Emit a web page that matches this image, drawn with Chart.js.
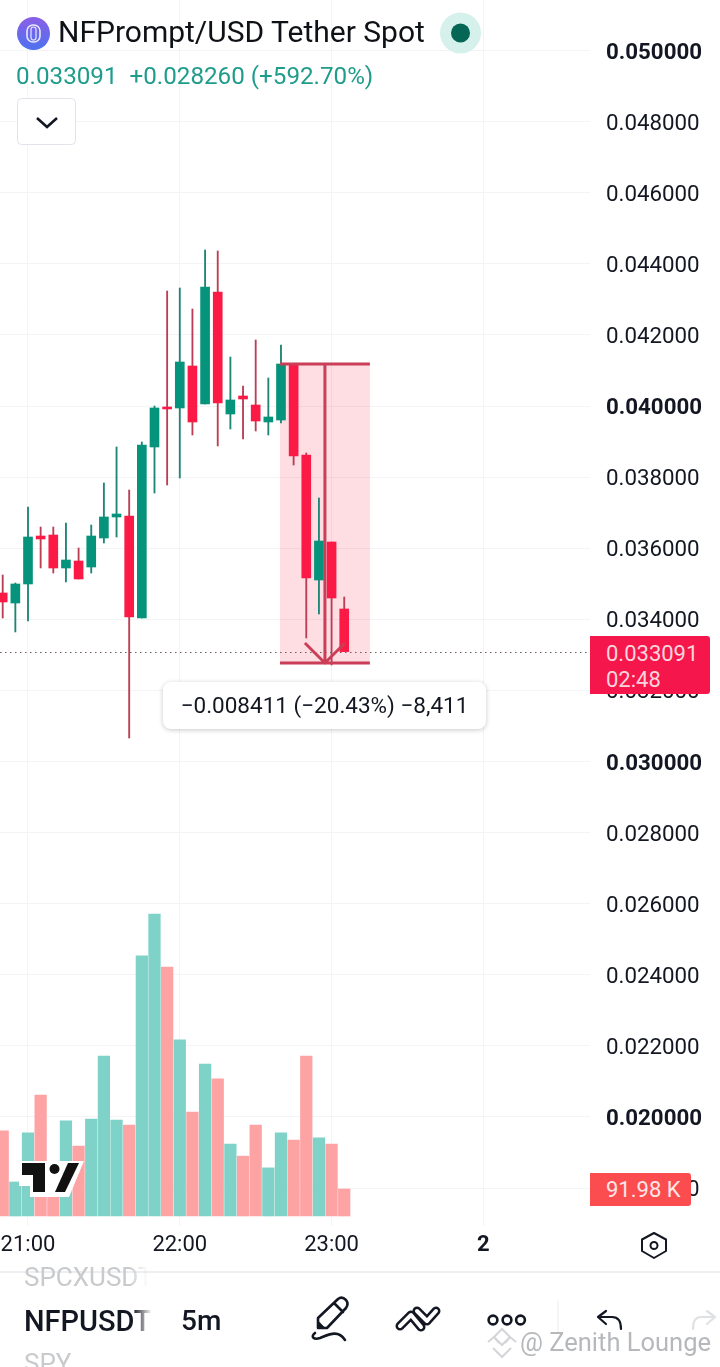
<!DOCTYPE html>
<html>
<head>
<meta charset="utf-8">
<script src="https://cdn.jsdelivr.net/npm/chart.js@4"></script>
<style>
  html, body { margin: 0; padding: 0; background: #fff; font-family: Roboto, sans-serif; color: #131722; }
  #page { position: relative; width: 720px; height: 1367px; overflow: hidden; }
  #wrap { position: absolute; left: 0; top: 0; width: 720px; height: 1270px; }
  .abs { position: absolute; white-space: nowrap; }
  .fade { -webkit-mask-image: linear-gradient(to right, #000 85%, transparent 100%); mask-image: linear-gradient(to right, #000 85%, transparent 100%); }
</style>
</head>
<body>
<div id="page">
  <div id="wrap"><canvas id="chart"></canvas></div>

  <!-- header -->
  <svg class="abs" style="left:0;top:0" width="720" height="150">
    <defs><linearGradient id="coin" x1="0" y1="0" x2="0" y2="1"><stop offset="0" stop-color="#8a5fe6"/><stop offset="1" stop-color="#4d72f0"/></linearGradient></defs>
    <circle cx="33.5" cy="33.5" r="16.5" fill="url(#coin)"/>
    <rect x="27" y="25" width="13" height="17" rx="6" fill="none" stroke="#e8e6fb" stroke-width="1.6"/>
    <rect x="31" y="27" width="5" height="13" rx="2.5" fill="none" stroke="#e8e6fb" stroke-width="1.2"/>
    <circle cx="460.5" cy="33" r="20.5" fill="#d6f0eb"/>
    <circle cx="460.5" cy="33" r="9.5" fill="#056656"/>
    <rect x="17.5" y="98.5" width="58" height="46" rx="4" fill="#fff" stroke="#e0e3eb"/>
    <path d="M37 118 L47 127 L57 118" fill="none" stroke="#131722" stroke-width="2.6"/>
  </svg>
  <div class="abs" style="left:58px;top:14px;font-size:30px;line-height:36px;color:#0e1116">NFPrompt/USD Tether Spot</div>
  <div class="abs" style="left:16px;top:61px;font-size:24.2px;line-height:30px;color:#1f9c8b">0.033091&nbsp; +0.028260 (+592.70%)</div>

  <!-- measure label -->
  <div class="abs" style="left:163px;top:682px;width:323px;height:47px;background:#fff;border-radius:8px;box-shadow:0 1px 5px rgba(0,0,0,.22);font-size:22.5px;line-height:47px;text-align:center">−0.008411 (−20.43%) −8,411</div>

  <!-- price labels on the axis -->
  <div class="abs" style="left:590px;top:636px;width:120px;height:58px;background:#f5174b;border-radius:0 3px 3px 0;color:#fbd5dc;font-size:22px;line-height:26px;padding:5px 0 0 16px;box-sizing:border-box">0.033091<br>02:48</div>
  <div class="abs" style="left:590px;top:1173px;width:101px;height:33px;background:#fb4d50;border-radius:0 3px 3px 0;color:#fde6e6;font-size:22px;line-height:34px;text-indent:16px">91.98 K</div>

  <!-- tradingview mark -->
  <svg class="abs" style="left:0;top:1150px" width="100" height="60">
    <path d="M19 11 H84 L69 47 H30 V36 H19 Z" fill="#fff"/>
    <path d="M22 13 H45 V42 H33 V25 H22 Z" fill="#111"/>
    <circle cx="54.5" cy="19" r="5" fill="#111"/>
    <path d="M68 13 H79 L65 42 H55 Z" fill="#111"/>
  </svg>

  <!-- bottom toolbar -->
  <div class="abs" style="left:0;top:1271px;width:720px;height:2px;background:#eceef1"></div>
  <svg class="abs" style="left:0;top:1225px" width="720" height="142" fill="none" stroke="#131722" stroke-width="2" stroke-linecap="round" stroke-linejoin="round">
    <path d="M654 8 L666 14.5 V26 L654 33 L642 26 V14.5 Z"/>
    <circle cx="654" cy="20.5" r="3.5"/>
    <path d="M318 103 V93 L338 74 Q342 71 346 75 Q349 79 346 83 L327 103 Z M334 78 L343 87" stroke-width="2.6"/>
    <path d="M318 103 V97 L324 103 Z" fill="#131722"/>
    <path d="M315 108 C310 112 314 115 320 113 C328 110 338 104 345 115" stroke-width="2.6"/>
    <path d="M400 101 L411 90 L421 102 M417 86 L427 96 L436 86" stroke-width="9"/>
    <path d="M400 101 L411 90 L421 102 M417 86 L427 96 L436 86" stroke="#fff" stroke-width="4"/>
    <circle cx="493" cy="95" r="4.4" stroke-width="2.6"/><circle cx="507" cy="95" r="4.4" stroke-width="2.6"/><circle cx="520.5" cy="95" r="4.4" stroke-width="2.6"/>
    <path d="M558 76 V108" stroke="#e7e9ec" stroke-width="1"/>
    <path d="M606 86 L598 92 L606 99 M599 92 H612 Q621 92 621 104" stroke-width="2.2"/>
    <path d="M707 86 L715 92 L707 99 M714 92 H701 Q693 92 693 104" stroke="#dfe1e5" stroke-width="2.2"/>
  </svg>
  <div class="abs fade" style="left:24px;top:1262px;width:124px;overflow:hidden;font-size:26px;line-height:30px;color:#c8cacc">SPCXUSDT</div>
  <div class="abs fade" style="left:24px;top:1304px;width:128px;overflow:hidden;font-size:29px;line-height:34px;font-weight:500">NFPUSDT</div>
  <div class="abs" style="left:181px;top:1304px;font-size:28px;line-height:34px;font-weight:500">5m</div>
  <div class="abs" style="left:24px;top:1348px;font-size:26px;line-height:30px;color:#c8cacc">SPY</div>
  <div class="abs" style="left:520px;top:1327px;font-size:25.5px;line-height:30px;color:#b6b8bc">@ Zenith Lounge</div>
  <svg class="abs" style="left:486px;top:1326px" width="34" height="34" fill="none" stroke="#d4d5d8" stroke-width="2">
    <path d="M16 3 L24 11 L16 19 L8 11 Z M2 16 L8 11 L13 17 M19 17 L24 11 L30 16 M7 22 L16 31 L25 22"/>
  </svg>
</div>

<script>
// candles, oldest first (5m bars)
var times = ['21:00', '22:00', '23:00', '2'];
var timeBars = [2, 14, 26, 38];
var opens = [0.034740, 0.034458, 0.034993, 0.036343, 0.036371, 0.035443, 0.035640, 0.035471, 0.036287, 0.036878,
  0.036906, 0.034036, 0.038847, 0.039944, 0.039944, 0.041125, 0.040056, 0.043207, 0.039775, 0.040281,
  0.040028, 0.039550, 0.039606, 0.041181, 0.038622, 0.035105, 0.036174, 0.034290];
var highs = [0.035246, 0.035021, 0.037159, 0.036596, 0.036596, 0.036709, 0.036006, 0.036653, 0.037834, 0.038847,
  0.037637, 0.038987, 0.040000, 0.043235, 0.043319, 0.042729, 0.044388, 0.044360, 0.041378, 0.040563,
  0.041857, 0.040788, 0.041716, 0.041181, 0.038678, 0.037412, 0.036174, 0.034627];
var lows = [0.034036, 0.033643, 0.033952, 0.035443, 0.035302, 0.035049, 0.035134, 0.035302, 0.036146, 0.036315,
  0.030661, 0.034036, 0.037553, 0.037778, 0.037975, 0.039184, 0.040056, 0.038875, 0.039353, 0.039072,
  0.039297, 0.039184, 0.039522, 0.038340, 0.033474, 0.034149, 0.032714, 0.033091];
var closes = [0.034487, 0.034993, 0.036315, 0.036259, 0.035443, 0.035668, 0.035134, 0.036343, 0.036878, 0.036962,
  0.034065, 0.038903, 0.039944, 0.039916, 0.041238, 0.039550, 0.043347, 0.040084, 0.040169, 0.040197,
  0.039578, 0.039691, 0.041181, 0.038593, 0.035162, 0.036202, 0.034599, 0.033091];
// volume in K
var volumes = [290, 116, 283, 412, 123, 324, 238, 330, 545, 327,
  310, 886, 1029, 848, 600, 354, 518, 467, 245, 204,
  310, 164, 283, 259, 545, 266, 245, 91.98];

var yTicks = [0.05, 0.048, 0.046, 0.044, 0.042, 0.04, 0.038, 0.036, 0.034, 0.032, 0.03, 0.028, 0.026, 0.024, 0.022, 0.02, 0.018];
var boldTicks = [0.05, 0.04, 0.03, 0.02];

// price range tool and last price
var measurePrices = [0.041183, 0.032772];
var measureBars = [21.92, 29.03];
var lastPrice = 0.033091;

var GREEN = '#05937c', RED = '#fb1a45';
var WICK_GREEN = '#1f8576', WICK_RED = '#bb3e54';
var VOL_GREEN = '#7fd2c8', VOL_RED = '#fda3a4';
var MEASURE = '#ca3f57';

function up(i) { return closes[i] >= opens[i]; }

// chart.js reserves room for the outer tick labels, we want the plot edge to edge
function noPadding(s) {
  s.paddingTop = 0; s.paddingBottom = 0; s.paddingLeft = 0; s.paddingRight = 0;
}

var overlay = {
  id: 'overlay',
  beforeDatasetsDraw: function (chart) {
    var c = chart.ctx, x = chart.scales.x, y = chart.scales.y;
    var l = x.getPixelForValue(measureBars[0]), r = x.getPixelForValue(measureBars[1]);
    var t = y.getPixelForValue(measurePrices[0]), b = y.getPixelForValue(measurePrices[1]);
    c.save();
    c.fillStyle = 'rgba(251,26,69,0.15)';
    c.fillRect(l, t, r - l, b - t);
    c.restore();
  },
  afterDatasetsDraw: function (chart) {
    var c = chart.ctx, x = chart.scales.x, y = chart.scales.y, a = chart.chartArea;
    var l = x.getPixelForValue(measureBars[0]), r = x.getPixelForValue(measureBars[1]);
    var t = y.getPixelForValue(measurePrices[0]), b = y.getPixelForValue(measurePrices[1]);
    var m = (l + r) / 2;
    c.save();
    // dotted last price line
    c.strokeStyle = '#6f5a60';
    c.lineWidth = 1;
    c.setLineDash([1.5, 3.5]);
    var p = Math.round(y.getPixelForValue(lastPrice)) + 0.5;
    c.beginPath(); c.moveTo(a.left, p); c.lineTo(a.right, p); c.stroke();
    c.setLineDash([]);
    // measure lines
    c.strokeStyle = MEASURE;
    c.lineWidth = 3;
    c.beginPath();
    c.moveTo(l, t); c.lineTo(r, t);
    c.moveTo(l, b); c.lineTo(r, b);
    c.moveTo(m, t); c.lineTo(m, b);
    c.moveTo(m - 20, b - 20); c.lineTo(m, b); c.lineTo(m + 20, b - 20);
    c.stroke();
    c.restore();
  }
};

new Chart(document.getElementById('chart'), {
  type: 'bar',
  plugins: [overlay],
  data: {
    datasets: [
      {
        label: 'Volume', yAxisID: 'yVol', order: 3, grouped: false, barThickness: 11.6,
        data: volumes.map(function (v, i) { return { x: i, y: v }; }),
        backgroundColor: volumes.map(function (v, i) { return up(i) ? VOL_GREEN : VOL_RED; })
      },
      {
        label: 'Wick', yAxisID: 'y', order: 2, grouped: false, barThickness: 1.2,
        data: highs.map(function (h, i) { return { x: i, y: [lows[i], h] }; }),
        backgroundColor: highs.map(function (h, i) { return up(i) ? WICK_GREEN : WICK_RED; })
      },
      {
        label: 'Body', yAxisID: 'y', order: 1, grouped: false, barThickness: 9, minBarLength: 2,
        data: opens.map(function (o, i) { return { x: i, y: [o, closes[i]] }; }),
        backgroundColor: opens.map(function (o, i) { return up(i) ? GREEN : RED; })
      }
    ]
  },
  options: {
    responsive: true,
    maintainAspectRatio: false,
    animation: false,
    layout: { padding: 0 },
    plugins: { legend: { display: false }, tooltip: { enabled: false } },
    scales: {
      x: {
        type: 'linear',
        offset: false,
        min: -0.213, max: 46.43,
        afterBuildTicks: function (s) { s.ticks = timeBars.map(function (v) { return { value: v }; }); },
        afterFit: function (s) { s.height = 44; noPadding(s); },
        grid: { color: '#f3f4f6', drawTicks: false, offset: false },
        border: { display: false },
        ticks: {
          autoSkip: false, maxRotation: 0, padding: 6, color: '#131722',
          font: function (ctx) { return { family: 'Roboto', size: 22, weight: ctx.index === 3 ? 'bold' : 'normal' }; },
          callback: function (v, i) { return times[i]; }
        }
      },
      y: {
        position: 'right',
        min: 0.016933, max: 0.051421,
        afterBuildTicks: function (s) { s.ticks = yTicks.map(function (v) { return { value: v }; }); },
        afterFit: function (s) { s.width = 130; noPadding(s); },
        grid: { color: '#f3f4f6', drawTicks: false },
        border: { display: false },
        ticks: {
          autoSkip: false, padding: 16, color: '#131722', align: 'center', labelOffset: 2.5,
          font: function (ctx) {
            var bold = ctx.tick && boldTicks.indexOf(ctx.tick.value) >= 0;
            return { family: 'Roboto', size: 22.3, weight: bold ? 'bold' : 'normal' };
          },
          callback: function (v) { return v.toFixed(6); }
        }
      },
      yVol: {
        display: false,
        min: -34.07, max: 4142.9
      }
    }
  }
});
</script>
</body>
</html>
